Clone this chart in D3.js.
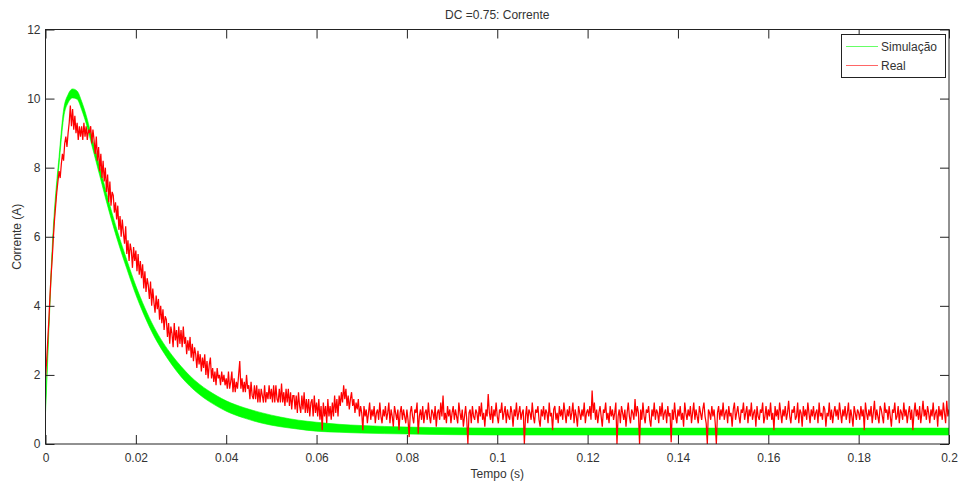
<!DOCTYPE html>
<html>
<head>
<meta charset="utf-8">
<script src="https://cdn.jsdelivr.net/npm/d3@7"></script>
<style>
  html, body { margin: 0; padding: 0; background: #fff; }
  svg { display: block; font-family: "Liberation Sans", Arial, sans-serif; }
</style>
</head>
<body>
<svg id="chart" width="959" height="486"></svg>
<script>
// Axis ticks
const xTicks = [0, 0.02, 0.04, 0.06, 0.08, 0.1, 0.12, 0.14, 0.16, 0.18, 0.2];
const xTickLabels = ["0", "0.02", "0.04", "0.06", "0.08", "0.1", "0.12", "0.14", "0.16", "0.18", "0.2"];
const yTicks = [0, 2, 4, 6, 8, 10, 12];
const yTickLabels = ["0", "2", "4", "6", "8", "10", "12"];

// Simulated current: PWM ripple band (upper / lower envelope) at these times
const simTime = [0, 0.0005, 0.001, 0.0015, 0.002, 0.0025, 0.003, 0.004, 0.005, 0.006, 0.007, 0.008, 0.009, 0.010,
  0.012, 0.014, 0.016, 0.018, 0.020, 0.022, 0.024, 0.026, 0.028, 0.030, 0.032, 0.034, 0.036, 0.038, 0.040,
  0.044, 0.048, 0.052, 0.056, 0.060, 0.065, 0.070, 0.080, 0.090, 0.100, 0.120, 0.140, 0.160, 0.180, 0.200];
const simHigh = [1.1, 2.72, 4.32, 5.72, 6.82, 7.62, 8.32, 9.67, 10.12, 10.28, 10.22, 9.92, 9.52, 9.02,
  8.03, 7.03, 6.13, 5.33, 4.58, 3.94, 3.39, 2.94, 2.57, 2.25, 1.97, 1.74, 1.55, 1.39, 1.25,
  1.05, 0.9, 0.78, 0.69, 0.63, 0.57, 0.535, 0.49, 0.47, 0.46, 0.46, 0.46, 0.46, 0.46, 0.46];
const simLow = [0.9, 2.48, 4.08, 5.48, 6.58, 7.38, 8.08, 9.43, 9.88, 10.02, 9.98, 9.68, 9.28, 8.78,
  7.77, 6.77, 5.87, 5.07, 4.32, 3.68, 3.13, 2.68, 2.29, 1.95, 1.67, 1.44, 1.25, 1.09, 0.95,
  0.75, 0.6, 0.5, 0.43, 0.37, 0.34, 0.315, 0.29, 0.27, 0.26, 0.26, 0.26, 0.26, 0.26, 0.26];

// Measured current, sampled every 0.25 ms from t = 0 to t = 0.2 s (20 samples per row = 5 ms)
const realStep = 0.00025;
const realValues = [
  1.9, 2.4, 3.0, 3.6, 4.3, 4.9, 5.4, 6.0, 6.5, 6.9, 7.3, 7.6, 7.9, 7.7, 8.1, 8.4, 8.2, 8.7, 8.9, 8.6,
  9.0, 9.3, 9.8, 9.2, 9.7, 9.1, 9.5, 9.0, 9.3, 8.8, 9.2, 8.9, 9.2, 8.8, 9.3, 8.9, 9.2, 8.8, 9.1, 9.0,
  9.2, 8.7, 9.1, 8.8, 8.4, 8.9, 8.2, 8.6, 7.9, 8.4, 7.7, 8.2, 7.6, 8.0, 7.3, 7.8, 7.0, 7.6, 6.9, 7.3,
  7.2, 6.7, 7.0, 6.5, 6.9, 6.2, 6.6, 6.0, 6.5, 6.1, 5.8, 6.3, 5.5, 5.9, 5.3, 5.8, 5.6, 5.1, 5.7, 5.3,
  5.6, 5.0, 5.5, 4.9, 5.3, 4.8, 5.2, 4.5, 5.0, 4.4, 4.8, 4.6, 4.2, 4.7, 4.0, 4.5, 4.1, 3.8, 4.3, 3.9,
  4.2, 3.6, 4.0, 3.5, 3.9, 3.3, 3.7, 3.6, 3.1, 3.5, 2.9, 3.4, 3.2, 2.8, 3.5, 3.0, 3.3, 2.8, 3.4, 2.9,
  3.3, 2.8, 3.4, 2.9, 3.1, 2.6, 3.0, 2.7, 3.1, 2.5, 2.9, 2.4, 2.8, 2.6, 2.2, 2.7, 2.3, 2.6, 2.1, 2.5,
  2.2, 2.6, 2.0, 2.4, 1.9, 2.3, 2.5, 1.9, 2.2, 1.8, 2.1, 1.7, 2.2, 1.9, 2.0, 1.7, 2.1, 1.8, 2.0, 1.7,
  1.9, 1.6, 2.1, 1.6, 1.8, 2.1, 1.5, 1.9, 1.5, 1.8, 1.6, 2.0, 2.4, 1.6, 1.9, 1.5, 1.8, 1.5, 2.0, 1.6,
  1.7, 1.3, 1.8, 1.4, 1.3, 1.7, 1.3, 1.7, 1.2, 1.6, 1.2, 1.6, 1.4, 1.2, 1.7, 1.2, 1.5, 1.3, 1.7, 1.3,
  1.6, 1.2, 1.7, 1.2, 1.7, 1.3, 1.2, 1.6, 1.2, 1.75, 1.2, 1.5, 1.1, 1.6, 1.2, 1.6, 1.1, 1.5, 1.0, 1.4,
  1.4, 1.0, 1.4, 0.9, 1.5, 1.1, 0.9, 1.4, 1.0, 1.5, 0.9, 1.3, 0.9, 1.3, 0.8, 1.2, 1.3, 0.8, 1.4, 0.9,
  1.2, 0.8, 1.3, 0.7, 1.1, 0.4, 1.2, 0.8, 1.1, 0.6, 1.3, 0.8, 1.1, 0.7, 1.2, 0.8, 1.4, 0.9, 1.3, 0.8,
  1.4, 1.1, 1.5, 1.2, 1.7, 1.3, 1.6, 1.1, 1.4, 1.0, 1.3, 1.5, 1.1, 1.3, 0.9, 1.2, 1.0, 1.3, 0.8, 1.1,
  0.9, 0.4, 1.1, 0.8, 1.0, 0.6, 0.9, 1.2, 0.7, 1.0, 0.8, 1.1, 0.6, 0.9, 1.0, 0.7, 1.2, 0.8, 0.6, 1.0,
  0.8, 1.1, 0.7, 0.9, 1.2, 0.6, 1.0, 0.8, 0.5, 1.1, 0.9, 0.7, 1.0, 0.4, 0.9, 1.1, 0.7, 1.0, 0.8, 0.6,
  1.0, 0.7, 0.2, 0.9, 1.1, 0.8, 0.6, 1.0, 0.9, 1.2, 0.3, 0.8, 1.0, 0.7, 1.1, 0.6, 0.9, 1.0, 0.7, 1.2,
  0.8, 0.6, 1.0, 0.9, 0.7, 1.1, 0.5, 0.9, 1.0, 0.7, 1.2, 0.8, 1.4, 0.7, 0.9, 0.6, 1.1, 0.8, 1.0, 0.6,
  0.9, 1.1, 0.7, 1.0, 0.8, 0.6, 1.2, 0.9, 0.7, 1.0, 0.5, 0.8, 1.1, 0.7, 0.0, 0.9, 1.0, 0.6, 1.1, 0.8,
  0.7, 1.0, 0.9, 0.6, 1.1, 0.8, 1.2, 0.7, 0.9, 0.5, 1.0, 0.8, 1.45, 0.9, 0.7, 1.1, 0.6, 1.0, 0.8, 1.2,
  0.8, 0.6, 1.0, 0.9, 1.2, 0.7, 0.9, 1.1, 0.6, 1.0, 0.8, 0.7, 1.1, 0.9, 0.5, 1.0, 0.8, 1.2, 0.7, 0.9,
  1.1, 0.7, 0.9, 1.0, 0.0, 0.8, 1.1, 0.6, 1.0, 0.9, 0.7, 1.2, 0.8, 0.6, 1.0, 0.9, 1.1, 0.7, 0.5, 1.0,
  0.8, 1.1, 0.7, 1.0, 0.9, 0.6, 1.2, 0.8, 0.9, 0.4, 1.0, 1.1, 0.7, 0.9, 0.6, 1.1, 0.8, 1.0, 0.7, 1.2,
  0.9, 0.6, 1.0, 0.8, 1.1, 0.7, 0.9, 1.2, 0.6, 1.0, 0.8, 0.5, 1.1, 0.9, 0.7, 1.0, 0.8, 1.2, 0.6, 0.9,
  1.0, 0.8, 1.1, 0.7, 1.55, 0.9, 1.2, 0.7, 1.0, 0.6, 0.9, 1.1, 0.8, 0.5, 1.0, 0.9, 1.2, 0.7, 0.9, 0.6,
  1.1, 0.8, 1.0, 0.7, 0.9, 1.2, 0.0, 0.8, 1.0, 0.6, 1.1, 0.9, 0.7, 1.0, 0.5, 0.9, 1.2, 0.8, 0.6, 1.0,
  0.9, 0.7, 1.3, 0.8, 1.1, 0.9, 0.0, 1.0, 0.7, 1.2, 0.8, 0.6, 1.0, 0.9, 1.1, 0.7, 0.5, 1.0, 0.8, 1.2,
  0.7, 1.0, 0.9, 0.6, 1.1, 0.8, 1.2, 0.7, 0.9, 1.0, 0.6, 1.1, 0.8, 0.9, 0.05, 1.0, 0.7, 1.2, 0.8, 0.6,
  1.0, 0.8, 1.1, 0.7, 0.9, 0.5, 1.2, 0.9, 0.7, 1.0, 0.8, 1.1, 0.6, 0.9, 1.2, 0.7, 1.0, 0.8, 0.6, 1.1,
  0.9, 0.7, 1.0, 1.2, 0.8, 0.6, 0.0, 1.0, 0.9, 0.7, 1.1, 0.8, 1.0, 0.6, 0.0, 0.9, 1.1, 0.7, 1.0, 0.8,
  1.2, 0.7, 0.9, 1.0, 0.6, 1.1, 0.8, 0.9, 0.5, 1.0, 1.2, 0.7, 0.9, 1.1, 0.8, 0.6, 1.0, 0.9, 1.2, 0.7,
  0.9, 1.1, 0.6, 1.0, 0.8, 1.2, 0.7, 0.9, 1.0, 0.5, 1.1, 0.8, 0.7, 1.0, 0.9, 1.2, 0.6, 0.8, 1.1, 0.7,
  1.0, 0.8, 1.2, 0.7, 0.9, 0.4, 1.1, 0.8, 1.0, 0.7, 1.2, 0.9, 0.6, 1.0, 0.8, 1.1, 0.7, 0.9, 1.25, 0.8,
  0.6, 1.0, 0.9, 1.1, 0.7, 0.8, 1.2, 0.6, 1.0, 0.9, 0.5, 1.1, 0.8, 1.0, 0.7, 1.2, 0.9, 0.6, 1.0, 0.8,
  1.1, 0.7, 0.9, 1.0, 0.6, 1.2, 0.8, 0.9, 0.7, 1.1, 1.0, 0.5, 0.9, 0.8, 1.2, 0.7, 1.0, 0.6, 0.9, 1.1,
  0.8, 1.0, 0.7, 1.2, 0.9, 0.6, 1.0, 0.8, 1.1, 0.7, 0.9, 1.2, 0.6, 1.0, 0.8, 0.5, 1.1, 0.9, 0.7, 1.0,
  0.9, 0.7, 1.1, 0.8, 1.0, 0.4, 1.2, 0.9, 0.7, 1.0, 0.8, 1.1, 0.6, 0.9, 1.25, 0.7, 1.0, 0.8, 0.6, 1.1,
  1.0, 0.8, 0.6, 1.2, 0.9, 1.0, 0.7, 1.1, 0.8, 0.5, 1.0, 0.9, 1.2, 0.7, 0.8, 1.1, 0.6, 1.0, 0.9, 0.7,
  1.2, 0.8, 1.0, 0.6, 0.9, 1.1, 0.7, 1.0, 0.4, 0.9, 1.2, 0.8, 1.0, 0.7, 1.1, 0.6, 0.9, 1.25, 0.8, 1.0,
  0.7, 1.1, 0.9, 0.6, 1.0, 0.8, 1.2, 0.7, 0.9, 1.0, 0.5, 1.1, 0.8, 1.0, 0.7, 1.2, 0.9, 0.6, 1.25, 0.8,
  1.0
];

const seriesNames = ["Simulação", "Real"];
const seriesColors = ["#00ff00", "#ff0000"];

const svg = d3.select("#chart");
const plotLeft = 45.5, plotRight = 949, plotTop = 29.5, plotBottom = 444;

const x = d3.scaleLinear().domain([0, 0.2]).range([plotLeft, plotRight]);
const y = d3.scaleLinear().domain([0, 12]).range([plotBottom, plotTop]);

svg.append("defs").append("clipPath").attr("id", "plotClip")
  .append("rect").attr("x", plotLeft).attr("y", plotTop)
  .attr("width", plotRight - plotLeft).attr("height", plotBottom - plotTop);

const plot = svg.append("g").attr("clip-path", "url(#plotClip)");

// Simulated ripple band
const simData = simTime.map((t, i) => ({ t, hi: simHigh[i], lo: simLow[i] }));
plot.append("path")
  .datum(simData)
  .attr("fill", seriesColors[0])
  .attr("stroke", seriesColors[0])
  .attr("stroke-width", 0.6)
  .attr("d", d3.area().x(d => x(d.t)).y0(d => y(d.lo)).y1(d => y(d.hi)).curve(d3.curveMonotoneX));

// Measured trace
const realData = realValues.map((v, i) => ({ t: i * realStep, v }));
plot.append("path")
  .datum(realData)
  .attr("fill", "none")
  .attr("stroke", seriesColors[1])
  .attr("stroke-width", 1.25)
  .attr("stroke-linejoin", "miter")
  .attr("d", d3.line().x(d => x(d.t)).y(d => y(d.v)));

// Axes (ticks inward on all four sides, box style)
const tickLen = 9;
const axisColor = "#222";
const labelColor = "#333";

const xAxisB = svg.append("g").attr("transform", `translate(0,${plotBottom})`)
  .call(d3.axisBottom(x).tickValues(xTicks).tickSizeInner(-tickLen).tickSizeOuter(0).tickPadding(9)
    .tickFormat((d, i) => xTickLabels[i]));
const xAxisT = svg.append("g").attr("transform", `translate(0,${plotTop})`)
  .call(d3.axisTop(x).tickValues(xTicks).tickSizeInner(-tickLen).tickSizeOuter(0).tickFormat(""));
const yAxisL = svg.append("g").attr("transform", `translate(${plotLeft},0)`)
  .call(d3.axisLeft(y).tickValues(yTicks).tickSizeInner(-tickLen).tickSizeOuter(0).tickPadding(5)
    .tickFormat((d, i) => yTickLabels[i]));
const yAxisR = svg.append("g").attr("transform", `translate(${plotRight},0)`)
  .call(d3.axisRight(y).tickValues(yTicks).tickSizeInner(-tickLen).tickSizeOuter(0).tickFormat(""));

[xAxisB, xAxisT, yAxisL, yAxisR].forEach(g => {
  g.select(".domain").remove();
  g.selectAll(".tick line").attr("stroke", axisColor);
  g.selectAll("text").attr("fill", labelColor).attr("font-size", 12)
    .attr("font-family", "'Liberation Sans', Arial, sans-serif");
});

// Box
svg.append("rect")
  .attr("x", plotLeft).attr("y", plotTop)
  .attr("width", plotRight - plotLeft).attr("height", plotBottom - plotTop)
  .attr("fill", "none").attr("stroke", axisColor).attr("stroke-width", 1);

// Title and axis labels
svg.append("text").attr("x", (plotLeft + plotRight) / 2).attr("y", 19).attr("text-anchor", "middle")
  .attr("font-size", 12).attr("fill", labelColor).text("DC =0.75: Corrente");
svg.append("text").attr("x", (plotLeft + plotRight) / 2).attr("y", 478).attr("text-anchor", "middle")
  .attr("font-size", 12).attr("fill", labelColor).text("Tempo (s)");
svg.append("text").attr("transform", `translate(21,${(plotTop + plotBottom) / 2}) rotate(-90)`)
  .attr("text-anchor", "middle").attr("font-size", 12).attr("fill", labelColor).text("Corrente (A)");

// Legend
const legend = svg.append("g");
legend.append("rect").attr("x", 841.5).attr("y", 34.5).attr("width", 104).attr("height", 43)
  .attr("fill", "#fff").attr("stroke", axisColor).attr("stroke-width", 1);
seriesNames.forEach((name, i) => {
  const ly = 46.5 + i * 19;
  legend.append("line").attr("x1", 846).attr("x2", 878).attr("y1", ly).attr("y2", ly)
    .attr("stroke", seriesColors[i]).attr("stroke-opacity", 0.6).attr("stroke-width", 1);
  legend.append("text").attr("x", 881).attr("y", ly + 4.5).attr("font-size", 12)
    .attr("fill", labelColor).text(name);
});
</script>
</body>
</html>
